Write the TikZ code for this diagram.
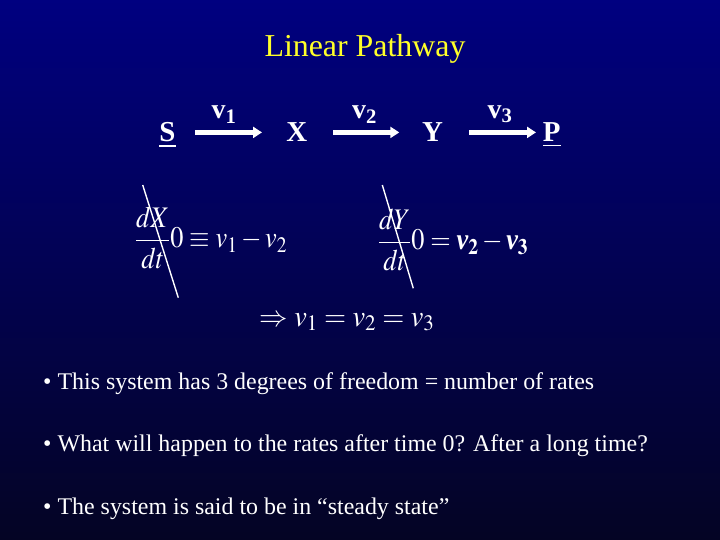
\documentclass[tikz,border=0pt]{standalone}
\usepackage{amsmath}
\usepackage{mathptmx}
\usepackage[no-math]{fontspec}
\setmainfont{Liberation Serif}
\usetikzlibrary{arrows.meta}

\definecolor{slidetop}{RGB}{0,0,128}
\definecolor{slidebot}{RGB}{4,4,36}
\definecolor{titleyel}{RGB}{255,255,40}

\tikzset{
  species/.style={inner sep=0pt,text=white,font=\fontsize{29}{34}\selectfont\bfseries},
  rate/.style={above=7bp,inner sep=0pt,text=white,font=\fontsize{28}{33}\selectfont\bfseries},
  rxn/.style={white,line width=4.5bp,-{Triangle[length=9bp,width=11bp]}},
  eqn/.style={text=white,inner sep=0pt,font=\fontsize{30}{36}\selectfont,xscale=0.88,transform shape},
  strike/.style={white,line width=1.4bp},
  bullet/.style={anchor=base west,text=white,inner sep=0pt,font=\fontsize{24}{29}\selectfont}
}

\begin{document}
\begin{tikzpicture}[x=1bp,y=-1bp]
    \shade[top color=slidetop,bottom color=slidebot] (0,0) rectangle (720,540);
    \useasboundingbox (0,0) rectangle (720,540);

    \node[text=titleyel,font=\fontsize{32}{38}\selectfont] (title) at (365,49) {Linear Pathway};

    % reaction chain
    \node[species,anchor=base] (S) at (167.5,141.7) {\underline{S}};
    \node[species,anchor=base] (X) at (296.7,141.7) {X};
    \node[species,anchor=base] (Y) at (432.5,141.7) {Y};
    \node[species,anchor=base] (P) at (551.7,141.7) {\underline{P}};
    \draw[rxn,shorten <=27.5bp,shorten >=34.7bp] ([yshift=7bp]S.mid) -- node[rate,xshift=-8bp]{v\textsubscript{1}} ([yshift=7bp]X.mid);
    \draw[rxn,shorten <=36.6bp,shorten >=33.2bp] ([yshift=7bp]X.mid) -- node[rate]{v\textsubscript{2}} ([yshift=7bp]Y.mid);
    \draw[rxn,shorten <=36.8bp,shorten >=15.7bp] ([yshift=7bp]Y.mid) -- node[rate,xshift=8bp]{v\textsubscript{3}} ([yshift=7bp]P.mid);

    % balance equations
    \node[eqn,anchor=west] (eqX) at (135,238) {$\dfrac{dX}{dt}0\equiv v_1-v_2$};
    \node[eqn,anchor=west] (eqY) at (378,240) {$\dfrac{dY}{dt}0=\text{\bfseries\itshape v}_{\mathbf{2}}-\text{\bfseries\itshape v}_{\mathbf{3}}$};
    \draw[strike] (142.7,185) -- (178.3,297.7);
    \draw[strike] (382.3,185) -- (413.3,288.3);
    \node[eqn,xscale=1.08] (steady) at (347,322) {$\Rightarrow v_1=v_2=v_3$};

    % remarks
    \node[bullet] (b1) at (43,389) {\textbullet\ This system has 3 degrees of freedom = number of rates};
    \node[bullet] (b2) at (43,451) {\textbullet\ What will happen to the rates after time 0? After a long time?};
    \node[bullet] (b3) at (43,514) {\textbullet\ The system is said to be in “steady state”};
\end{tikzpicture}
\end{document}
